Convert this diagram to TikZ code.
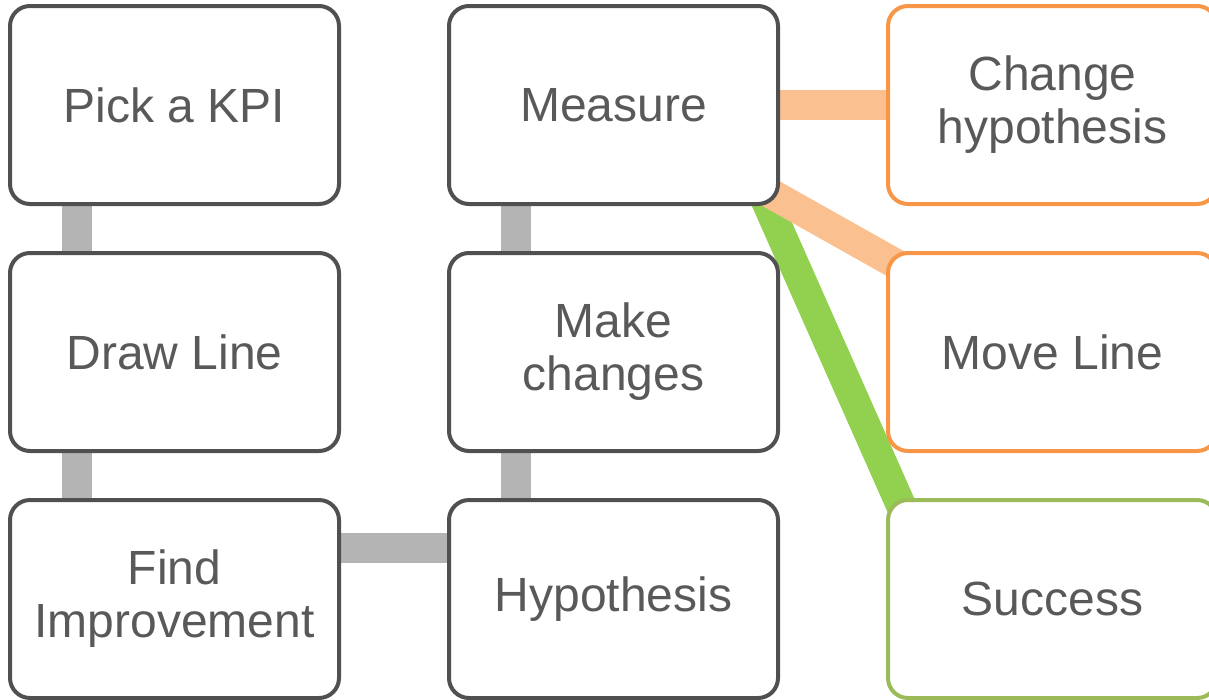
\documentclass[tikz,border=0pt]{standalone}
\usepackage{fontspec}
\setmainfont{Liberation Sans}
\usepackage{xcolor}
\usepackage{tikz}
\usetikzlibrary{calc,backgrounds}

\definecolor{boxgray}{RGB}{80,80,80}
\definecolor{textgray}{RGB}{89,89,89}
\definecolor{linkgray}{RGB}{180,180,180}
\definecolor{linkorange}{RGB}{250,192,143}
\definecolor{boxorange}{RGB}{247,150,70}
\definecolor{linkgreen}{RGB}{146,208,80}
\definecolor{boxgreen}{RGB}{155,187,89}

\tikzset{
  box/.style={draw=boxgray, line width=4pt, rounded corners=20pt, fill=white,
    minimum width=329pt, minimum height=198pt, inner sep=0pt, align=center,
    text=textgray, font=\fontsize{48}{53}\selectfont},
  orangebox/.style={box, draw=boxorange},
  greenbox/.style={box, draw=boxgreen},
  graylink/.style={draw=linkgray, line width=30pt},
  orangelink/.style={draw=linkorange, line width=30pt},
  greenlink/.style={draw=linkgreen, line width=30pt}
}

\begin{document}
\begin{tikzpicture}[x=1pt,y=-1pt]
    \useasboundingbox (0,0) rectangle (1209,699);

    \node[box] (kpi) at (174.5,105) {Pick a KPI};
    \node[box] (drawline) at (174.5,352) {Draw Line};
    \node[box] (findimp) at (174.5,599) {Find\\Improvement};
    \node[box] (measure) at (613.5,105) {Measure};
    \node[box] (make) at (613.5,352) {Make\\changes};
    \node[box] (hyp) at (613.5,599) {Hypothesis};
    \node[orangebox] (change) at (1052.5,105) {Change\\hypothesis};
    \node[orangebox] (moveline) at (1052.5,352) {Move Line};
    \node[greenbox] (success) at (1052.5,599) {Success};

    \begin{scope}[on background layer]
    \draw[graylink] ([xshift=69pt]kpi.south west) to ([xshift=69pt]drawline.north west);
    \draw[graylink] ([xshift=69pt]drawline.south west) to ([xshift=69pt]findimp.north west);
    \draw[graylink] ([yshift=-50pt]findimp.north east) to ([yshift=-50pt]hyp.north west);
    \draw[graylink] ([xshift=69pt]hyp.north west) to ([xshift=69pt]make.south west);
    \draw[graylink] ([xshift=69pt]make.north west) to ([xshift=69pt]measure.south west);
    \draw[greenlink] ([xshift=110pt]measure.center) to ([xshift=-110pt]success.center);
    \draw[orangelink] (measure.center) to (change.center);
    \draw[orangelink] (measure.center) to (moveline.center);
    \end{scope}
  \end{tikzpicture}
\end{document}
